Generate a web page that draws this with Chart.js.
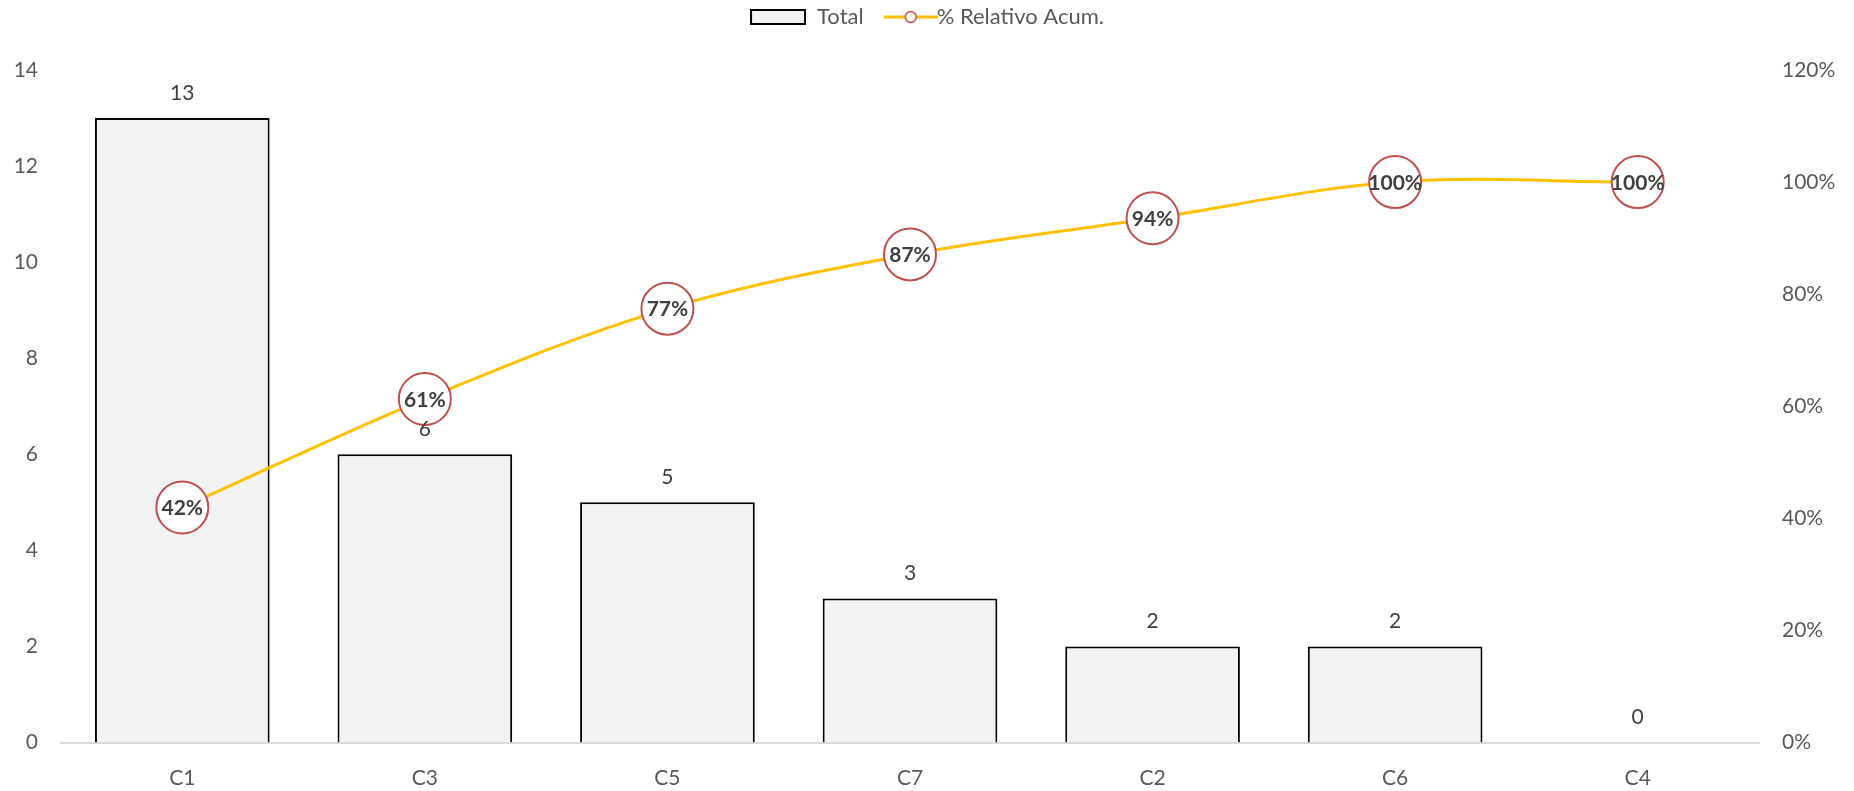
<!DOCTYPE html>
<html>
<head>
<meta charset="utf-8">
<script src="https://cdn.jsdelivr.net/npm/chart.js@4.4.0/dist/chart.umd.min.js"></script>
<style>
    html, body { margin: 0; padding: 0; background: #ffffff; }
    #wrap { width: 1854px; height: 791px; position: relative; }
</style>
</head>
<body>
<div id="wrap"><canvas id="chart"></canvas></div>
<script>
const categories = ["C1", "C3", "C5", "C7", "C2", "C6", "C4"];
const totals = [13, 6, 5, 3, 2, 2, 0];
const cumulativePct = [41.94, 61.29, 77.42, 87.10, 93.55, 100, 100];
const leftTicks = [0, 2, 4, 6, 8, 10, 12, 14];
const rightTicks = [0, 20, 40, 60, 80, 100, 120];

const FONT = "Lato";
const TEXT_GREY = "#595959";
const LABEL_DARK = "#404040";
const BAR_FILL = "#F2F2F2";
const LINE_COLOR = "#FFC000";
const MARKER_RED = "#C0504D";

// little images for the legend
function legendBar() {
    const c = document.createElement("canvas");
    c.width = 56; c.height = 16;
    const g = c.getContext("2d");
    g.fillStyle = BAR_FILL;
    g.fillRect(1, 1, 54, 14);
    g.strokeStyle = "#000";
    g.lineWidth = 2;
    g.strokeRect(1, 1, 54, 14);
    return c;
}

// transparent strip on the left gives the gap after "Total"
function legendLine() {
    const c = document.createElement("canvas");
    c.width = 80; c.height = 16;
    const g = c.getContext("2d");
    g.strokeStyle = LINE_COLOR;
    g.lineWidth = 3;
    g.beginPath();
    g.moveTo(26, 8);
    g.lineTo(80, 8);
    g.stroke();
    g.beginPath();
    g.arc(53, 8, 5.5, 0, Math.PI * 2);
    g.fillStyle = "#fff";
    g.fill();
    g.strokeStyle = MARKER_RED;
    g.lineWidth = 1.5;
    g.stroke();
    return c;
}

const legendSpace = {
    id: "legendSpace",
    beforeInit(chart) {
        const fit = chart.legend.fit;
        chart.legend.fit = function () {
            fit.bind(chart.legend)();
            this.height = 70;
        };
    }
};

const valueLabels = {
    id: "valueLabels",
    afterDatasetsDraw(chart) {
        const ctx = chart.ctx;
        ctx.save();
        ctx.textAlign = "center";
        ctx.textBaseline = "middle";

        const bars = chart.getDatasetMeta(0).data;
        ctx.font = "21px " + FONT;
        ctx.fillStyle = LABEL_DARK;
        bars.forEach((bar, i) => {
            ctx.fillText(String(totals[i]), bar.x, bar.y - 25);
        });

        const pts = chart.getDatasetMeta(1).data;
        ctx.font = "bold 21px " + FONT;
        ctx.fillStyle = LABEL_DARK;
        pts.forEach((p, i) => {
            ctx.fillText(Math.round(cumulativePct[i]) + "%", p.x, p.y + 1);
        });
        ctx.restore();
    }
};

new Chart(document.getElementById("chart"), {
    data: {
        labels: categories,
        datasets: [
            {
                type: "bar",
                label: "Total",
                data: totals,
                yAxisID: "y",
                backgroundColor: BAR_FILL,
                borderColor: "#000000",
                borderWidth: 2,
                borderSkipped: "start",
                categoryPercentage: 1,
                barPercentage: 0.72,
                order: 2
            },
            {
                type: "line",
                label: "% Relativo Acum.",
                data: cumulativePct,
                yAxisID: "y1",
                borderColor: LINE_COLOR,
                borderWidth: 3,
                tension: 0.35,
                pointRadius: 26,
                pointBorderWidth: 2,
                pointBackgroundColor: "#ffffff",
                pointBorderColor: MARKER_RED,
                clip: false,
                order: 1
            }
        ]
    },
    options: {
        responsive: true,
        maintainAspectRatio: false,
        animation: false,
        layout: { padding: 0 },
        plugins: {
            tooltip: { enabled: false },
            legend: {
                position: "top",
                labels: {
                    usePointStyle: true,
                    pointStyleWidth: 56,
                    boxHeight: 16,
                    padding: 6,
                    color: TEXT_GREY,
                    font: { family: FONT, size: 22 },
                    generateLabels() {
                        return [
                            { text: "Total", pointStyle: legendBar(), datasetIndex: 0, fontColor: TEXT_GREY, lineWidth: 0 },
                            { text: "% Relativo Acum.", pointStyle: legendLine(), datasetIndex: 1, fontColor: TEXT_GREY, lineWidth: 0 }
                        ];
                    }
                }
            }
        },
        scales: {
            x: {
                z: 1,
                afterFit(scale) { scale.height = 48.5; },
                grid: { display: false, drawTicks: false },
                border: { display: true, color: "#D9D9D9", width: 2 },
                ticks: { color: TEXT_GREY, font: { family: FONT, size: 21 }, padding: 23 }
            },
            y: {
                position: "left",
                min: 0,
                max: 14,
                afterBuildTicks(scale) { scale.ticks = leftTicks.map(v => ({ value: v })); },
                afterFit(scale) { scale.width = 61; },
                grid: { display: false, drawTicks: false },
                border: { display: false },
                ticks: { color: TEXT_GREY, font: { family: FONT, size: 21 }, padding: 23 }
            },
            y1: {
                position: "right",
                min: 0,
                max: 120,
                afterBuildTicks(scale) { scale.ticks = rightTicks.map(v => ({ value: v })); },
                afterFit(scale) { scale.width = 95; },
                grid: { display: false, drawTicks: false },
                border: { display: false },
                ticks: {
                    color: TEXT_GREY,
                    font: { family: FONT, size: 21 },
                    padding: 23,
                    callback: v => v + "%"
                }
            }
        }
    },
    plugins: [legendSpace, valueLabels]
});
</script>
</body>
</html>
